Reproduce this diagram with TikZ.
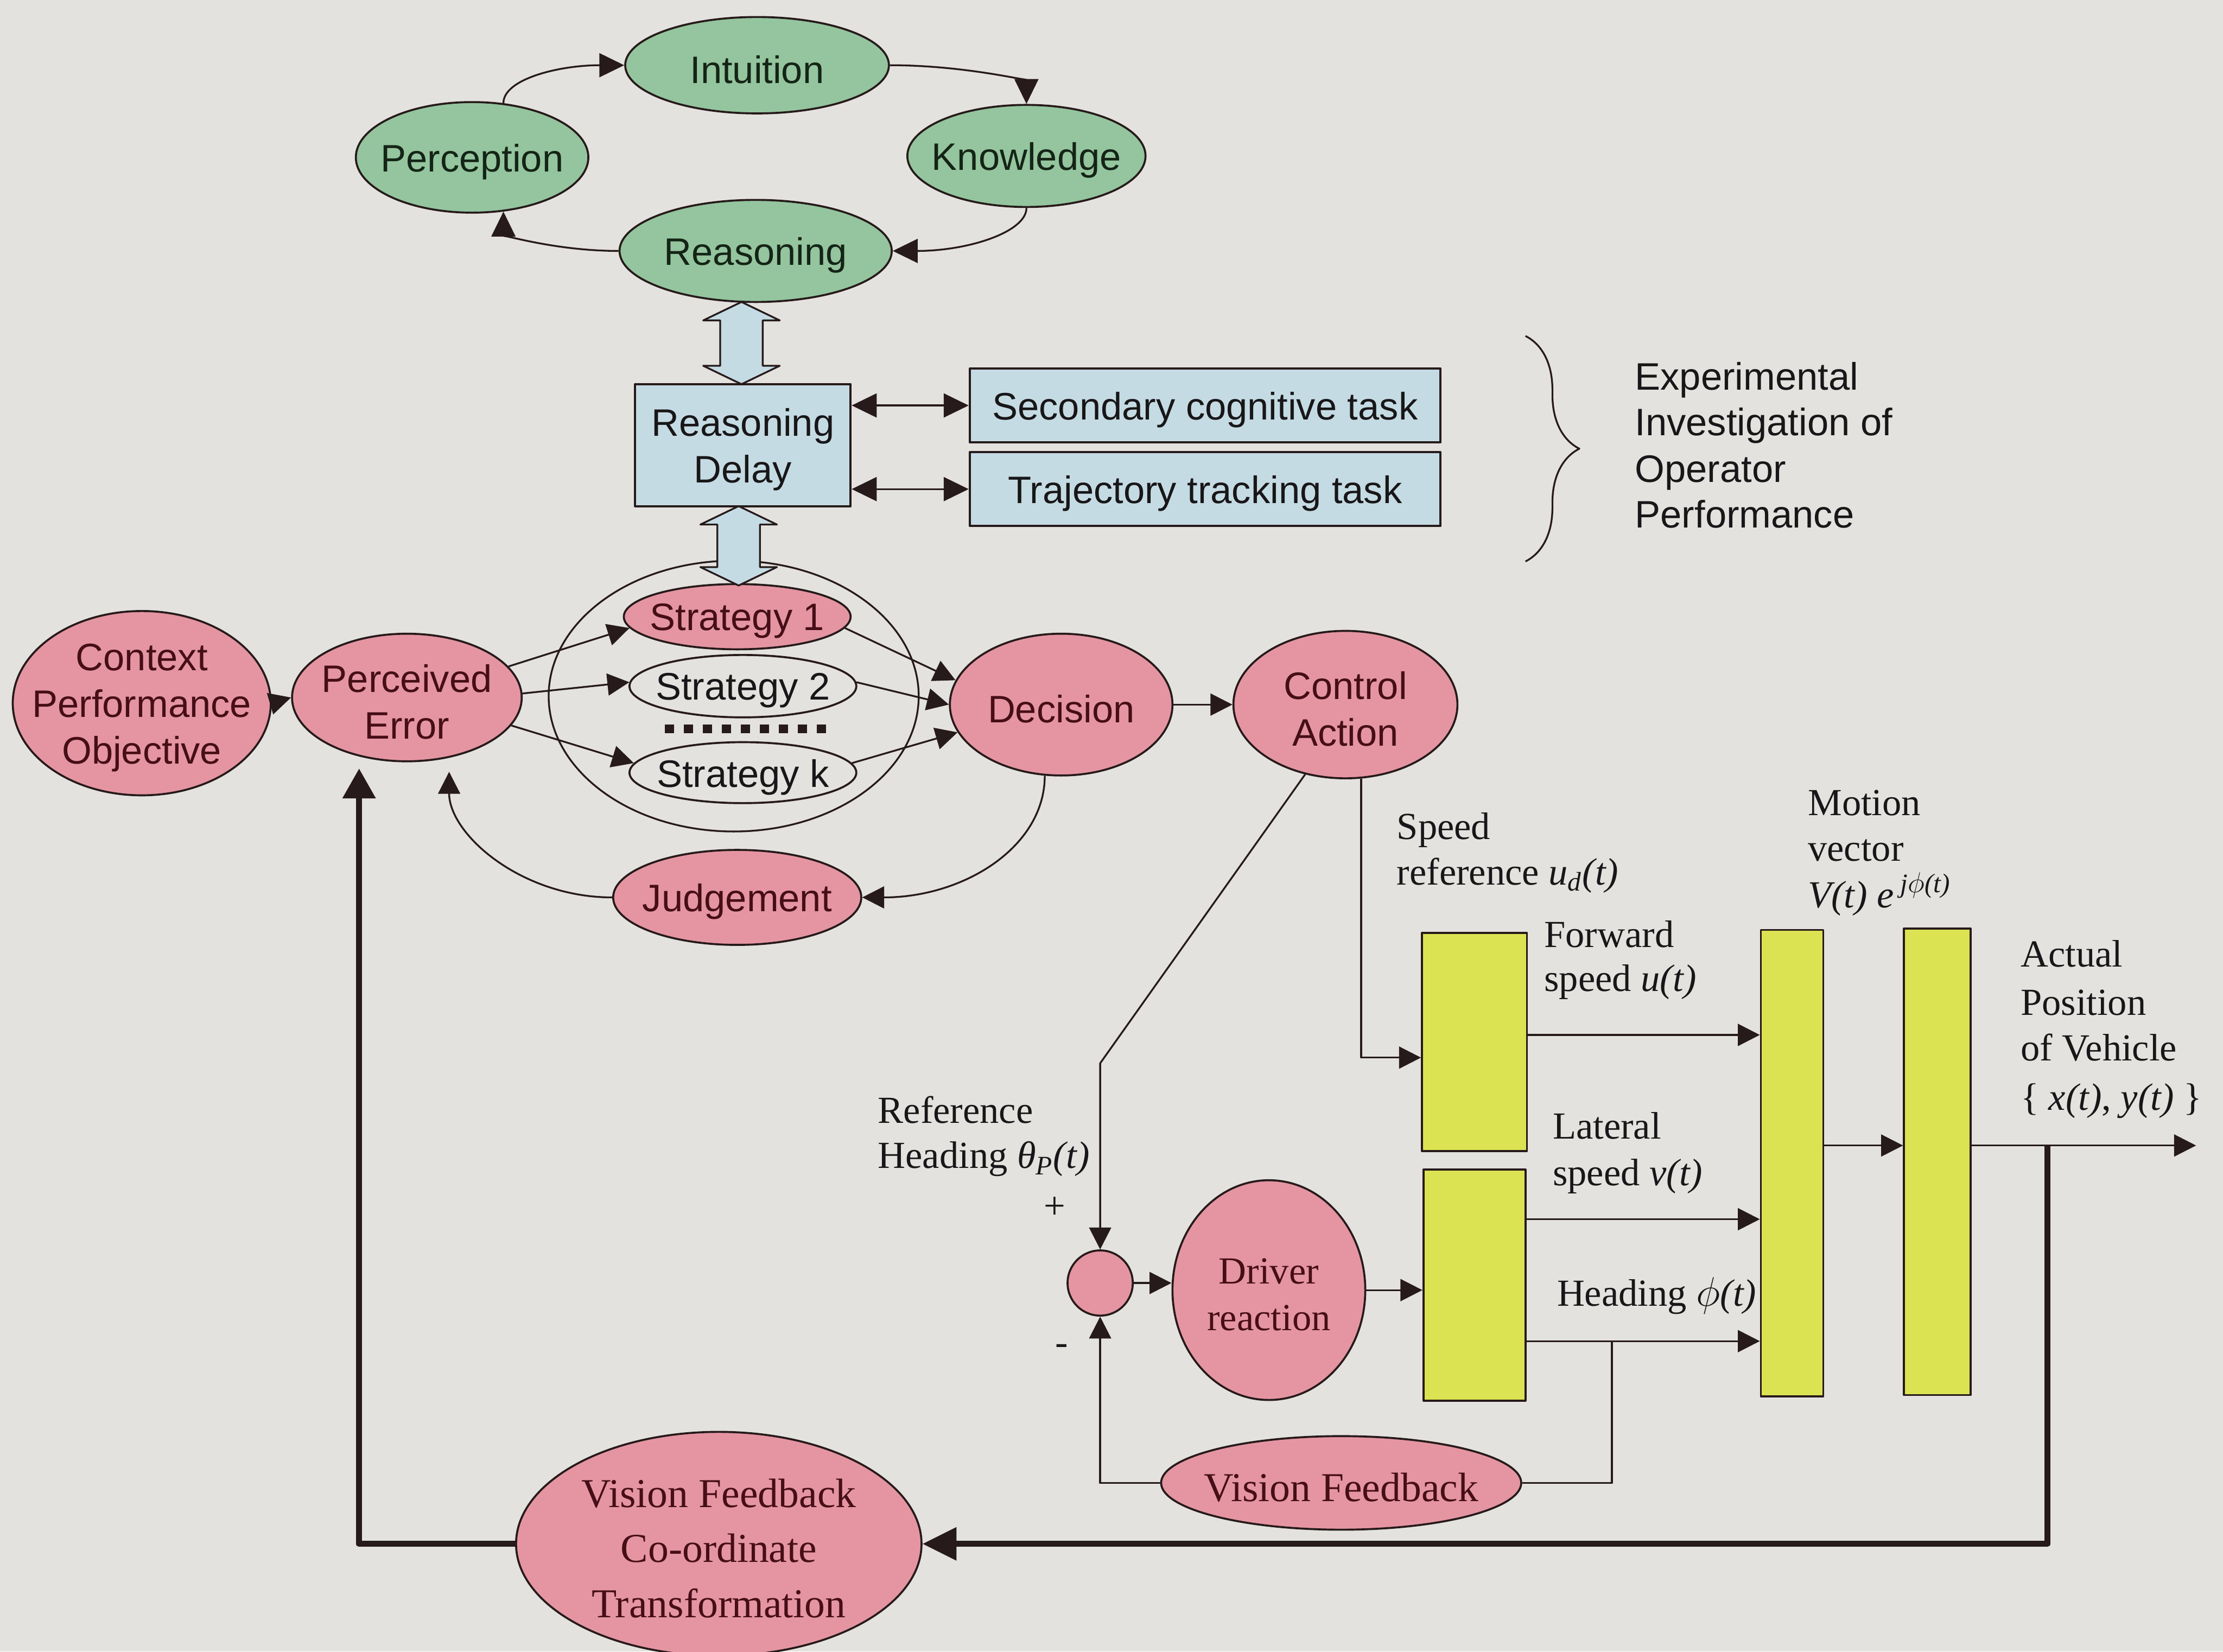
\documentclass[tikz,border=0pt]{standalone}
\usepackage{fontspec}
\setmainfont{Liberation Serif}
\setsansfont{Liberation Sans}
\usetikzlibrary{shapes.geometric,arrows.meta,calc,decorations.pathreplacing}

\definecolor{bgc}{RGB}{228,226,222}
\definecolor{lnc}{RGB}{38,26,26}
\definecolor{grn}{RGB}{148,197,158}
\definecolor{pnk}{RGB}{229,149,162}
\definecolor{blu}{RGB}{197,219,228}
\definecolor{ylw}{RGB}{220,227,82}
\definecolor{gtx}{RGB}{20,36,22}
\definecolor{ptx}{RGB}{70,14,22}
\definecolor{btx}{RGB}{24,22,24}

\newcommand\sansfs{\sffamily\fontsize{19.2}{23.4}\selectfont}
\newcommand\seriffs{\rmfamily\fontsize{19.2}{23.4}\selectfont}
\newcommand\vffs{\rmfamily\fontsize{20.6}{27.6}\selectfont}

\begin{document}
\begin{tikzpicture}[x=0.025cm,y=-0.025cm,line join=round,
  sz/.style 2 args={minimum width=#1*0.025cm,minimum height=#2*0.025cm},
  ell/.style={ellipse,draw=lnc,line width=1pt,inner sep=0pt},
  lab/.style={inner sep=0pt,align=center,yshift=-2.2pt},
  gnode/.style={ell,fill=grn,label={[lab,font=\sansfs,text=gtx]center:{#1}}},
  pnode/.style={ell,fill=pnk,label={[lab,font=\sansfs,text=ptx]center:{#1}}},
  pser/.style={ell,fill=pnk,label={[lab,font=\seriffs,text=ptx]center:{#1}}},
  pvf/.style={ell,fill=pnk,label={[lab,font=\vffs,text=ptx]center:{#1}}},
  snode/.style={ell,label={[lab,font=\sansfs,text=btx]center:{#1}}},
  bbox/.style={rectangle,draw=lnc,line width=1.1pt,fill=blu,inner sep=0pt,label={[lab,font=\sansfs,text=btx]center:{#1}}},
  ybox/.style={rectangle,draw=lnc,line width=1pt,fill=ylw,inner sep=0pt},
  lbl/.style={anchor=west,inner sep=0pt,font=\seriffs,text=btx,text height=0.7em,text depth=0.2em,yshift=-3.3pt},
  slbl/.style={anchor=west,inner sep=0pt,font=\sansfs,text=btx,text height=0.7em,text depth=0.2em,yshift=-4pt},
  sign/.style={inner sep=0pt,font=\seriffs,text=btx},
  line/.style={draw=lnc,line width=0.9pt},
  conn/.style={line,-{Triangle[length=11pt,width=11pt]}},
  garr/.style={line,-{Triangle[length=12.5pt,width=12pt]}},
  darr/.style={line,{Triangle[length=12.5pt,width=12pt]}-{Triangle[length=12.5pt,width=12pt]}},
  thk/.style={draw=lnc,line width=3pt,-{Triangle[length=17pt,width=16pt]}},
  blockarrow/.style={draw=lnc,line width=0.9pt,fill=blu}]

% page
\path[use as bounding box,fill=bgc] (0,0) rectangle (1568,1165);

% cognitive cycle
\node[gnode={Intuition},sz={186}{68}] (intu) at (534,46) {};
\node[gnode={Perception},sz={164}{78}] (perc) at (333,111) {};
\node[gnode={Knowledge},sz={168}{72}] (know) at (724,110) {};
\node[gnode={Reasoning},sz={192}{72}] (reas) at (533,177) {};

\draw[garr] (perc.60) .. controls +(0,-17) and +(-46,0) .. (intu.west);
\draw[garr] (intu.east) .. controls +(53,0) and +(0,-16) .. (know.north);
\draw[garr] (know.south) .. controls +(0,17) and +(53,0) .. (reas.east);
\draw[garr] (reas.west) .. controls +(-45,0) and +(0,16) .. (perc.-60);

% reasoning delay and the two tasks
\node[bbox={Reasoning\\Delay},sz={152}{86}] (delay) at (524,314) {};
\node[bbox={Secondary cognitive task},sz={332}{52}] (sec) at (850,286) {};
\node[bbox={Trajectory tracking task},sz={332}{52}] (traj) at (850,345) {};
\draw[darr] (delay.east |- sec.west) -- (sec.west);
\draw[darr] (delay.east |- traj.west) -- (traj.west);

\draw[line width=0.9pt,draw=lnc,decorate,decoration={brace,amplitude=0.95cm}] (1076,237) -- (1076,396);
\node[slbl] (ex1) at (1153,266) {Experimental};
\node[slbl] (ex2) at (1153,298) {Investigation of};
\node[slbl] (ex3) at (1153,331) {Operator};
\node[slbl] (ex4) at (1153,363) {Performance};

% strategy selection
\node[ellipse,draw=lnc,line width=0.9pt,sz={261}{191}] (grp) at (517.5,491) {};
\node[pnode={Strategy 1},sz={160}{46}] (s1) at (520,435) {};
\node[snode={Strategy 2},sz={160}{44}] (s2) at (524,484) {};
\node[snode={Strategy k},sz={160}{43}] (sk) at (524,545) {};
\draw[draw=lnc,line width=0.15cm,dash pattern=on 0.1625cm off 0.1725cm] (469,514) -- (583,514);

% two-way block arrows
\draw[blockarrow] (523,213) -- (550,226) -- (538,226) -- (538,258) -- (550,258) -- (523,271)
  -- (496,258) -- (508,258) -- (508,226) -- (496,226) -- cycle;
\draw[blockarrow] (521,357) -- (548,370) -- (536,370) -- (536,400) -- (548,400) -- (521,413)
  -- (494,400) -- (506,400) -- (506,370) -- (494,370) -- cycle;

\node[pnode={Context\\Performance\\Objective},sz={182}{130}] (ctx) at (100,496) {};
\node[pnode={Perceived\\Error},sz={162}{90}] (perr) at (287,492) {};
\node[pnode={Decision},sz={157}{100}] (dec) at (748.5,497) {};
\node[pnode={Control\\Action},sz={158}{104}] (ctrl) at (949,497) {};
\node[pnode={Judgement},sz={175}{67}] (judg) at (520,633) {};

\draw[conn] (ctx.east) -- (perr.west);
\draw[conn] (perr.17) -- (s1.186);
\draw[conn] (perr.2) -- (s2.178);
\draw[conn] (perr.-15) -- (sk.175);
\draw[conn] (s1.-6) -- (dec.167);
\draw[conn] (s2.2) -- (dec.west);
\draw[conn] (sk.5) -- (dec.195);
\draw[conn] (dec.east) -- (ctrl.west);
\draw[conn] (dec.257) .. controls +(0,50) and +(72,0) .. (judg.east);
\draw[conn,shorten >=7pt] (judg.west) .. controls +(-64,0) and +(0,54) .. (perr.-55);

% vehicle loop
\node[circle,draw=lnc,line width=1pt,fill=pnk,minimum size=46*0.025cm,inner sep=0pt] (sum) at (776,905) {};
\node[pser={Driver\\reaction},sz={136}{155}] (drv) at (895,910) {};
\node[pvf={Vision Feedback},sz={254}{66}] (vf) at (946,1046) {};
\node[pvf={Vision Feedback\\Co-ordinate\\Transformation},sz={286}{158}] (vfct) at (507,1089) {};

\node[ybox,sz={74}{154}] (b1) at (1040,735) {};
\node[ybox,sz={72}{163}] (b2) at (1040,906.5) {};
\node[ybox,sz={44}{329}] (b3) at (1264,820.5) {};
\node[ybox,sz={47}{329}] (b4) at (1366.5,819.5) {};

\coordinate (bend) at (776,750);
\coordinate (ya) at (0,730);
\coordinate (yb) at (0,860);
\coordinate (yc) at (0,946);
\coordinate (yd) at (0,808);
\coordinate (hd) at (1137,946);
\coordinate (tap) at (1444,808);
\coordinate (vpos) at (1549,808);

\draw[conn] (ctrl.282) |- ($(b1.west)+(0,11)$);
\draw[conn] (ctrl.240) -- (bend) -- (sum.north);
\draw[conn] (sum.east) -- (drv.west |- sum.east);
\draw[conn] (drv.east) -- (b2.west |- drv.east);
\draw[conn] (b1.east |- ya) -- (b3.west |- ya);
\draw[conn] (b2.east |- yb) -- (b3.west |- yb);
\draw[conn] (b2.east |- yc) -- (b3.west |- yc);
\draw[conn] (b3.east |- yd) -- (b4.west |- yd);
\draw[conn] (b4.east |- yd) -- (vpos);
\draw[line] (hd) |- (vf.east);
\draw[conn] (vf.west) -| (sum.south);
\draw[thk] (tap) |- (vfct.east);
\draw[thk,-{Triangle[length=15pt,width=16pt]},shorten >=6pt] (vfct.west) -| (perr.-129);

% signal labels
\node[lbl] (sp1) at (985,584) {Speed};
\node[lbl] (sp2) at (985,616) {reference \textit{u}\textsubscript{\textit{d}}\textit{(t)}};
\node[lbl] (fw1) at (1089,660) {Forward};
\node[lbl] (fw2) at (1089,691) {speed \textit{u(t)}};
\node[lbl] (lt1) at (1095,795) {Lateral};
\node[lbl] (lt2) at (1095,828) {speed \textit{v(t)}};
\node[lbl] (hdl) at (1098,913) {Heading $\phi$\textit{(t)}};
\node[lbl] (mv1) at (1275,567) {Motion};
\node[lbl] (mv2) at (1275,599) {vector};
\node[lbl] (mv3) at (1275,632) {\textit{V(t) e}\,\textsuperscript{\textit{j}$\phi$\textit{(t)}}};
\node[lbl] (ap1) at (1425,674) {Actual};
\node[lbl] (ap2) at (1425,708) {Position};
\node[lbl] (ap3) at (1425,740) {of Vehicle};
\node[lbl] (ap4) at (1425,775) {\{ \textit{x(t)}, \textit{y(t)} \}};
\node[lbl] (rf1) at (619,784) {Reference};
\node[lbl] (rf2) at (619,816) {Heading \textit{θ}\textsubscript{\textit{P}}\textit{(t)}};
\node[sign] (plus) at (744,852) {+};
\node[sign] (minus) at (749,952) {-};
\end{tikzpicture}
\end{document}
